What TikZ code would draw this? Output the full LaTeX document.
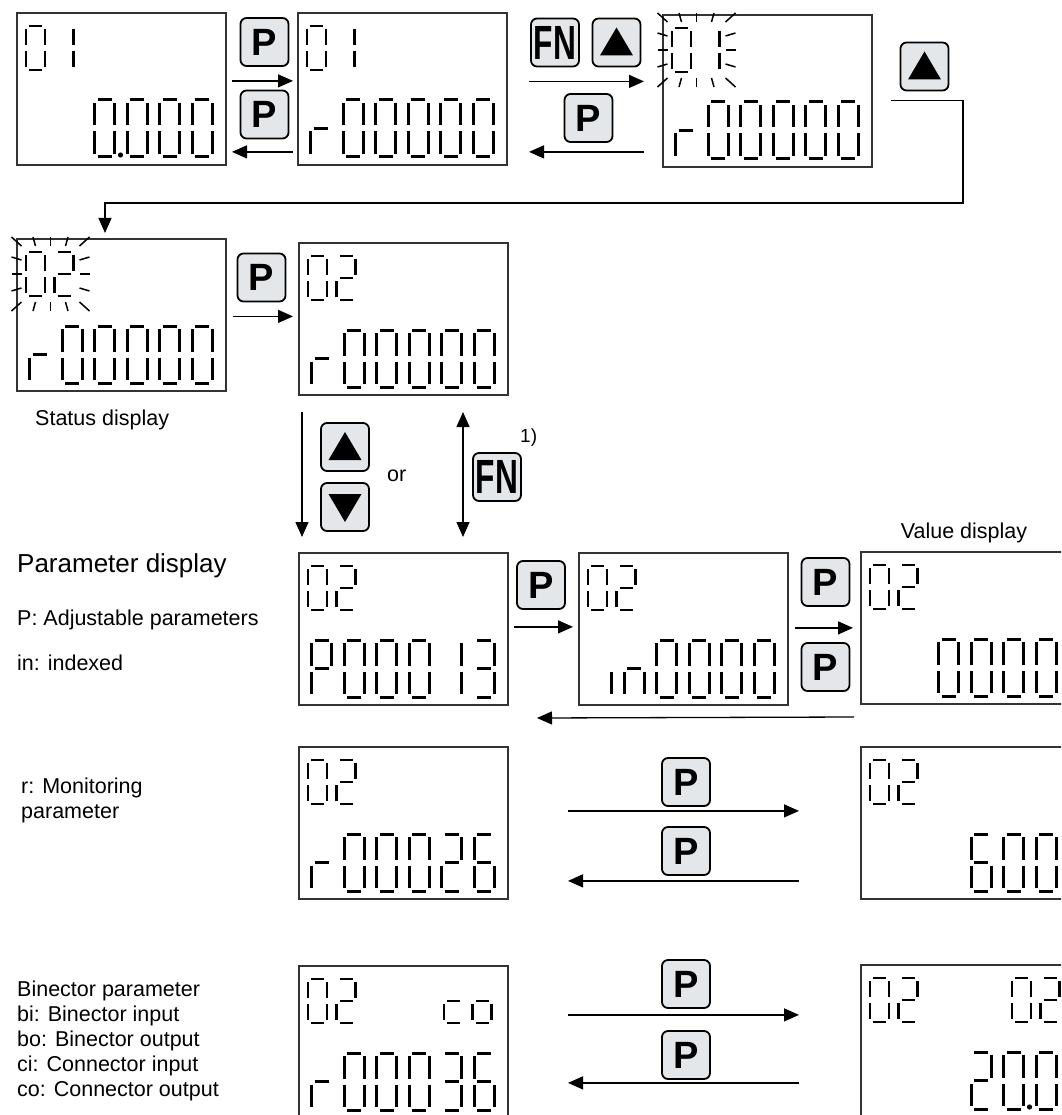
\documentclass[tikz,border=0pt]{standalone}
\usepackage{fontspec}
\setmainfont{Liberation Sans}
\usetikzlibrary{arrows.meta,calc}

\definecolor{keyfill}{HTML}{E3E7EA}
\definecolor{lcdline}{HTML}{333333}

\tikzset{
  lcdbox/.style={draw=lcdline, line width=1.4, minimum width=209, minimum height=152,
    inner sep=0, outer sep=0, anchor=north west},
  key/.style={draw, line width=1.8, rounded corners=6, fill=keyfill, minimum width=48,
    minimum height=48, inner sep=0, font=\bfseries\fontsize{38}{38}\selectfont},
  upkey/.style={key, path picture={\fill[black, sharp corners]
    ($(path picture bounding box.center)+(-16.5,13)$) -- ++(33,0) -- ++(-16.5,-28) -- cycle;}},
  downkey/.style={key, path picture={\fill[black, sharp corners]
    ($(path picture bounding box.center)+(-16.5,-13)$) -- ++(33,0) -- ++(-16.5,28) -- cycle;}},
  arr/.style={-{Triangle[length=15pt,width=13pt]}, line width=1.3},
  arrs/.style={arr, {Triangle[length=15pt,width=13pt]}-{Triangle[length=15pt,width=13pt]}},
  seg/.style={line width=3, black},
  ray/.style={line width=1.5, black},
  txt/.style={font=\fontsize{21.5}{25}\selectfont, inner sep=0, anchor=base west}
}

% --- seven segment characters ---
\newcommand{\segcut}{3}
\pgfkeys{/lcd/.cd,
  sa/.code={\draw[seg] (\lcdx+\segcut,\lcdy) -- (\lcdx+\lcdw-\segcut,\lcdy);},
  sb/.code={\draw[seg] (\lcdx+\lcdw,\lcdy+\segcut) -- (\lcdx+\lcdw,\lcdy+0.5*\lcdh-\segcut);},
  sc/.code={\draw[seg] (\lcdx+\lcdw,\lcdy+0.5*\lcdh+\segcut) -- (\lcdx+\lcdw,\lcdy+\lcdh-\segcut);},
  sd/.code={\draw[seg] (\lcdx+\segcut,\lcdy+\lcdh) -- (\lcdx+\lcdw-\segcut,\lcdy+\lcdh);},
  se/.code={\draw[seg] (\lcdx,\lcdy+0.5*\lcdh+\segcut) -- (\lcdx,\lcdy+\lcdh-\segcut);},
  sf/.code={\draw[seg] (\lcdx,\lcdy+\segcut) -- (\lcdx,\lcdy+0.5*\lcdh-\segcut);},
  sg/.code={\draw[seg] (\lcdx+\segcut,\lcdy+0.5*\lcdh) -- (\lcdx+\lcdw-\segcut,\lcdy+0.5*\lcdh);},
  dp/.code={\fill (\lcdx+\lcdw+6,\lcdy+\lcdh-2) circle (2.6);},
  0/.style={sa,sb,sc,sd,se,sf},
  1/.style={sb,sc},
  2/.style={sa,sb,sg,se,sd},
  3/.style={sa,sb,sg,sc,sd},
  6/.style={sa,sf,sg,se,sd,sc},
  P/.style={sa,sb,sf,sg,se},
  r/.style={se,sg},
  i/.style={sc},
  n/.style={se,sg,sc},
  c/.style={sg,se,sd},
  o/.style={sg,sc,sd,se},
  0d/.style={0,dp}
}

% x, y, width, height, pitch, characters
\newcommand{\lcdrow}[6]{%
  \foreach \ch [count=\k from 0] in {#6}{%
    \pgfmathsetmacro{\lcdx}{#1+\k*#5}%
    \def\lcdy{#2}\def\lcdw{#3}\def\lcdh{#4}%
    \edef\lcdtmp{\noexpand\pgfkeys{/lcd/.cd,\ch}}\lcdtmp}}
\newcommand{\topdigits}[2]{\begin{scope}[seg/.append style={line width=2.7}]
  \lcdrow{#1}{13}{19}{44}{28.5}{#2}\end{scope}}
\newcommand{\valdigits}[2]{\lcdrow{#1}{87}{20}{57}{32.5}{#2}}

% flashing rays round the top digits
\newcommand{\blink}[2]{%
  \foreach \sx in {-1,1}{%
    \foreach \ox/\oy/\ix/\iy in {39/37/29/28, 17.5/37/15/28, 39/17/29/14}{%
      \draw[ray] ({#1+\sx*\ox},{#2-\oy}) -- ({#1+\sx*\ix},{#2-\iy});
      \draw[ray] ({#1+\sx*\ox},{#2+\oy}) -- ({#1+\sx*\ix},{#2+\iy});}
    \draw[ray] ({#1+\sx*39},#2) -- ({#1+\sx*29},#2);
    \draw[ray] (#1,{#2+\sx*37}) -- (#1,{#2+\sx*28});}}

\begin{document}
\begin{tikzpicture}[x=1pt, y=-1pt]

  \useasboundingbox (0,0) rectangle (1061,1115);
  \clip (0,0) rectangle (1061,1115);

  % --- displays ---
  \node[lcdbox] (dA) at (17,13) {};
  \node[lcdbox] (dB) at (298,13) {};
  \node[lcdbox] (dC) at (663,15) {};
  \node[lcdbox] (dD) at (17,239) {};
  \node[lcdbox] (dE) at (299,243) {};
  \node[lcdbox] (dF) at (299,553) {};
  \node[lcdbox] (dG) at (579,553) {};
  \node[lcdbox] (dH) at (861,552) {};
  \node[lcdbox] (dI) at (299,747) {};
  \node[lcdbox] (dJ) at (861,747) {};
  \node[lcdbox] (dK) at (299,966) {};
  \node[lcdbox] (dL) at (861,965) {};

  % --- display contents ---
  \begin{scope}[shift={(dA.north west)}]
    \topdigits{9}{0,1} \valdigits{77.5}{0d,0,0,0}
  \end{scope}
  \begin{scope}[shift={(dB.north west)}]
    \topdigits{9}{0,1} \valdigits{12.5}{r,0,0,0,0,0}
  \end{scope}
  \begin{scope}[shift={(dC.north west)}]
    \topdigits{9}{0,1} \blink{33.5}{35} \valdigits{12.5}{r,0,0,0,0,0}
  \end{scope}
  \begin{scope}[shift={(dD.north west)}]
    \topdigits{9}{0,2} \blink{33.5}{35} \valdigits{12.5}{r,0,0,0,0,0}
  \end{scope}
  \begin{scope}[shift={(dE.north west)}]
    \topdigits{9}{0,2} \valdigits{12.5}{r,0,0,0,0,0}
  \end{scope}
  \begin{scope}[shift={(dF.north west)}]
    \topdigits{9}{0,2} \valdigits{12.5}{P,0,0,0,1,3}
  \end{scope}
  \begin{scope}[shift={(dG.north west)}]
    \topdigits{9}{0,2} \valdigits{12.5}{i,n,0,0,0,0}
  \end{scope}
  \begin{scope}[shift={(dH.north west)}]
    \topdigits{9}{0,2} \valdigits{77.5}{0,0,0,0}
  \end{scope}
  \begin{scope}[shift={(dI.north west)}]
    \topdigits{9}{0,2} \valdigits{12.5}{r,0,0,0,2,6}
  \end{scope}
  \begin{scope}[shift={(dJ.north west)}]
    \topdigits{9}{0,2} \valdigits{110}{6,0,0}
  \end{scope}
  \begin{scope}[shift={(dK.north west)}]
    \topdigits{9}{0,2} \topdigits{145}{c,o} \valdigits{12.5}{r,0,0,0,3,6}
  \end{scope}
  \begin{scope}[shift={(dL.north west)}]
    \topdigits{9}{0,2} \topdigits{151}{0,2} \valdigits{110}{2,0d,0}
  \end{scope}

  % --- keys ---
  \node[key] (pA1) at (264.5,42) {P};
  \node[key] (pA2) at (264.5,114.5) {P};
  \node[key] (fB) at (555,42.5) {\scalebox{0.66}[1]{\fontsize{48}{48}\selectfont FN}};
  \node[upkey] (uB) at (616.5,42.5) {};
  \node[key] (pB) at (588.5,118) {P};
  \node[upkey] (uC) at (924.5,66.5) {};
  \node[key] (pD) at (261.5,277.5) {P};
  \node[upkey] (uE) at (345,447) {};
  \node[downkey] (dnE) at (345,507) {};
  \node[key] (fE) at (497,477) {\scalebox{0.66}[1]{\fontsize{48}{48}\selectfont FN}};
  \node[key] (pF) at (541,585) {P};
  \node[key] (pG1) at (825.5,582) {P};
  \node[key] (pG2) at (825.5,667) {P};
  \node[key] (pI1) at (686,782) {P};
  \node[key] (pI2) at (686,851) {P};
  \node[key] (pK1) at (686,984) {P};
  \node[key] (pK2) at (686,1055) {P};

  % --- arrows ---
  \draw[arr] ($(dA.east |- pA1.south)+(6,14)$) -- ($(dB.west |- pA1.south)+(-5,14)$);
  \draw[arr] ($(dB.west |- pA2.south)+(-5,12.5)$) -- ($(dA.east |- pA2.south)+(6,12.5)$);
  \draw[arr] ($(dB.east |- fB.south)+(22,14)$) -- ($(dC.west |- fB.south)+(-19,14)$);
  \draw[arr] ($(dC.west |- pB.south)+(-19,9)$) -- ($(dB.east |- pB.south)+(22,9)$);
  \coordinate (turn) at ($(dD.north west)+(88,-36)$);
  \draw[arr] ($(dC.east |- uC.south)+(19,9)$) -- ++(72,0) |- (turn)
    -- ($(dD.north west)+(88,-6)$);
  \draw[arr] ($(dD.east |- pD.south)+(7,14)$) -- ($(dE.west |- pD.south)+(-6,14)$);
  \draw[arr] ($(dE.south west)+(3,17)$) -- ($(dF.north west)+(3,-16)$);
  \draw[arrs] ($(dE.south west)+(164,17)$) -- ($(dF.north west)+(164,-16)$);
  \draw[arr] ($(dF.east |- pF.south)+(6,17)$) -- ($(dG.west |- pF.south)+(-6,17)$);
  \draw[arr] ($(dG.east |- pG1.south)+(7,21)$) -- ($(dH.west |- pG1.south)+(-8,21)$);
  \draw[arr] ($(dH.south west)+(-7,13)$) -- ($(dG.south west)+(-42,13)$);
  \draw[arr] ($(dI.east |- pI1.south)+(60,4)$) -- ($(dJ.west |- pI1.south)+(-62,4)$);
  \draw[arr] ($(dJ.west |- pI2.south)+(-62,5)$) -- ($(dI.east |- pI2.south)+(60,5)$);
  \draw[arr] ($(dK.east |- pK1.south)+(60,6)$) -- ($(dL.west |- pK1.south)+(-62,6)$);
  \draw[arr] ($(dL.west |- pK2.south)+(-62,3)$) -- ($(dK.east |- pK2.south)+(60,3)$);

  % --- labels ---
  \node[txt] (lstat) at (35,425) {Status display};
  \node[txt] (lor) at (387,481) {or};
  \node[txt, anchor=north west, font=\fontsize{19}{19}\selectfont] (lnote) at (520,429) {1)};
  \node[txt, font=\fontsize{26}{30}\selectfont] (lpar) at (17,572) {Parameter display};
  \node[txt] (ladj) at (17,625) {P: Adjustable parameters};
  \node[txt] (lind) at (17,670) {in: indexed};
  \node[txt, anchor=base] (lval) at (964,538) {Value display};
  \node[txt] (lmon1) at (21,793) {r: Monitoring};
  \node[txt] (lmon2) at (21,818) {parameter};
  \foreach \t [count=\k from 0] in {Binector parameter, bi: Binector input,
      bo: Binector output, ci: Connector input, co: Connector output}
    \node[txt] (lbin\k) at (17,996+25*\k) {\t};

\end{tikzpicture}
\end{document}
